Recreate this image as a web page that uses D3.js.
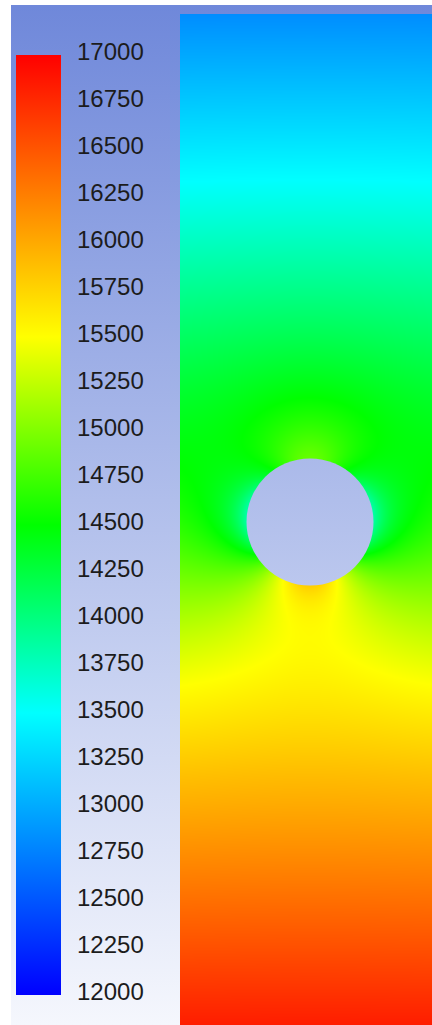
<!DOCTYPE html>
<html>
<head>
<meta charset="utf-8">
<script src="https://cdn.jsdelivr.net/npm/d3@7"></script>
<style>
  html, body { margin: 0; padding: 0; background: #ffffff; overflow: hidden; }
  svg { display: block; }
</style>
</head>
<body>
<script>
// Contours of static pressure around a cylinder (flow from bottom to top)

// colour bar labels
const tickLabels = [17000, 16750, 16500, 16250, 16000, 15750, 15500, 15250, 15000, 14750,
                    14500, 14250, 14000, 13750, 13500, 13250, 13000, 12750, 12500, 12250, 12000];

// colour map stops (pressure -> colour)
const colorStops = [12000, 13500, 14500, 15500, 17000];
const colorNames = ["#0000ff", "#00ffff", "#00ff00", "#ffff00", "#ff0000"];

// undisturbed pressure against height, in cylinder diameters above the cylinder centre
const farHeight   = [4, 3, 2, 1, 0, -1, -2, -3, -4];
const farPressure = [12820, 13320, 13830, 14340, 14830, 15330, 15850, 16340, 16840];

// pressure change on the cylinder wall: front (bottom), side, rear (top)
const wallAngle = [0, 90, 180];
const wallDelta = [720, -950, 310];

const W = 432, H = 1025;

const svg = d3.select("body").append("svg")
  .attr("width", W).attr("height", H);

const defs = svg.append("defs");

// backdrop shading
const shade = defs.append("linearGradient")
  .attr("id", "panelShade")
  .attr("gradientUnits", "userSpaceOnUse")
  .attr("x1", 0).attr("y1", 5).attr("x2", 0).attr("y2", H);
shade.append("stop").attr("offset", 0).attr("stop-color", "#6f88da");
shade.append("stop").attr("offset", 1).attr("stop-color", "#f5f7fd");

svg.append("rect").attr("width", W).attr("height", H).attr("fill", "#ffffff");
svg.append("rect")
  .attr("x", 11).attr("y", 5)
  .attr("width", W - 11).attr("height", H - 5)
  .attr("fill", "url(#panelShade)");

// pressure -> colour
const color = d3.scaleLinear()
  .domain(colorStops)
  .range(colorNames)
  .interpolate(d3.interpolateRgb)
  .clamp(true);

// domain (cylinder diameters) -> pixels
const x = d3.scaleLinear().domain([-1, 1]).range([183, 437]);
const y = d3.scaleLinear().domain([4, -4]).range([14, 1030]);

const farField = d3.scaleLinear().domain(farHeight).range(farPressure);

// wall values split into mean, first and second harmonic
const front = wallDelta[wallAngle.indexOf(0)];
const side  = wallDelta[wallAngle.indexOf(90)];
const rear  = wallDelta[wallAngle.indexOf(180)];
const mean2 = (front + rear) / 2;
const c0 = (mean2 + side) / 2;
const c1 = (front - rear) / 2;
const c2 = (mean2 - side) / 2;
const radius = 0.5;

function pressure(px, py) {
  const r = Math.hypot(px, py);
  const k = radius / r;
  const cosT = -py / r;            // angle measured from the front stagnation point
  const cos2T = 2 * cosT * cosT - 1;
  return farField(py)
    + c0 * Math.pow(k, 4)
    + c1 * cosT * Math.pow(k, 3)
    + c2 * cos2T * k * k;
}

// raster of the pressure field
const fx0 = Math.round(x(-1.02)), fx1 = W;
const fy0 = Math.round(y(4)), fy1 = H;
const fw = fx1 - fx0, fh = fy1 - fy0;

const canvas = document.createElement("canvas");
canvas.width = fw; canvas.height = fh;
const ctx = canvas.getContext("2d");
const img = ctx.createImageData(fw, fh);
for (let j = 0; j < fh; j++) {
  const py = y.invert(fy0 + j + 0.5);
  for (let i = 0; i < fw; i++) {
    const px = x.invert(fx0 + i + 0.5);
    const c = d3.rgb(color(pressure(px, py)));
    const o = (j * fw + i) * 4;
    img.data[o] = c.r; img.data[o + 1] = c.g; img.data[o + 2] = c.b; img.data[o + 3] = 255;
  }
}
ctx.putImageData(img, 0, 0);

svg.append("image")
  .attr("x", fx0).attr("y", fy0)
  .attr("width", fw).attr("height", fh)
  .attr("preserveAspectRatio", "none")
  .attr("href", canvas.toDataURL());

// the cylinder itself
svg.append("circle")
  .attr("cx", x(0)).attr("cy", y(0))
  .attr("r", x(radius) - x(0))
  .attr("fill", "url(#panelShade)");

// colour bar
const legendY = d3.scaleLinear().domain([12000, 17000]).range([995, 55]);
const barGrad = defs.append("linearGradient")
  .attr("id", "barGrad")
  .attr("x1", 0).attr("y1", 1).attr("x2", 0).attr("y2", 0);
const frac = d3.scaleLinear().domain([12000, 17000]).range([0, 1]);
barGrad.selectAll("stop").data(colorStops).join("stop")
  .attr("offset", d => frac(d))
  .attr("stop-color", d => color(d));

svg.append("rect")
  .attr("x", 16).attr("y", legendY(17000))
  .attr("width", 45).attr("height", legendY(12000) - legendY(17000))
  .attr("fill", "url(#barGrad)");

svg.append("g")
  .selectAll("text").data(tickLabels).join("text")
  .attr("x", 77)
  .attr("y", d => legendY(d) - 3)
  .attr("dy", "0.35em")
  .attr("font-family", "'Liberation Sans', Arial, sans-serif")
  .attr("font-size", 24)
  .attr("fill", "#1c1c1c")
  .text(d => d);
</script>
</body>
</html>
